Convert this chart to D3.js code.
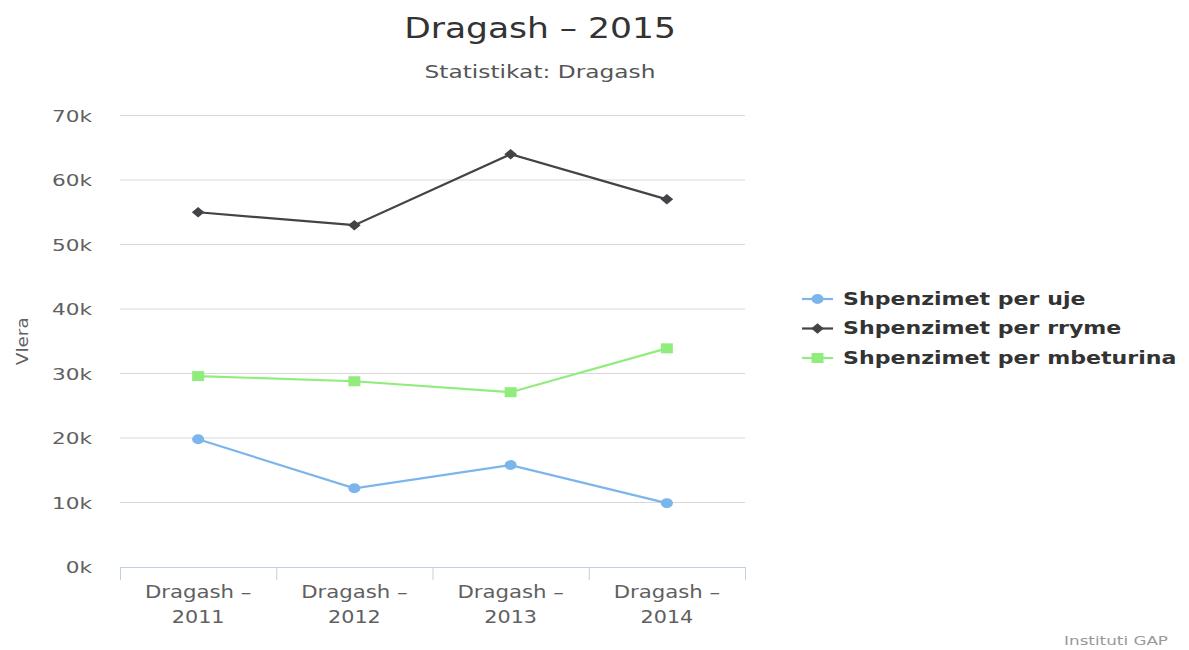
<!DOCTYPE html>
<html><head><meta charset="utf-8">
<script src="https://cdn.jsdelivr.net/npm/d3@7"></script>
<style>body{margin:0;background:#fff}svg{display:block}text{font-family:"DejaVu Sans",Verdana,sans-serif}</style>
</head><body><svg id="c" width="1189" height="650"></svg>
<script>
const categories = ["Dragash – 2011","Dragash – 2012","Dragash – 2013","Dragash – 2014"];
const seriesNames = ["Shpenzimet per uje","Shpenzimet per rryme","Shpenzimet per mbeturina"];
const uje = [19800, 12200, 15800, 9900];
const rryme = [55000, 53000, 64000, 57000];
const mbeturina = [29600, 28800, 27100, 33900];
const yTicks = [0,10000,20000,30000,40000,50000,60000,70000];
const colors = ["#7cb5ec","#434348","#90ed7d"];

// rhombus symbol (equal-ish diagonals like Highcharts diamond)
const rhombus = {draw(ctx,size){const r=Math.sqrt(size)/2; ctx.moveTo(0,-r);ctx.lineTo(r,0);ctx.lineTo(0,r);ctx.lineTo(-r,0);ctx.closePath();}};
const symbols = [d3.symbolCircle, rhombus, d3.symbolSquare];
const symSizes = [78, 110, 100];

const series = [uje, rryme, mbeturina].map((v,i)=>({name:seriesNames[i], values:v, color:colors[i], symbol:symbols[i], size:symSizes[i]}));

const svg = d3.select("#c");
const L=120, R=745, T=115.5, B=567;
const x = d3.scaleBand().domain(categories).range([L,R]);
const y = d3.scaleLinear().domain([0,70000]).range([B,T]);

// stretched text helper
function stext(parent, px, py, sx, str, opts){
  const g = parent.append("g").attr("transform",`translate(${px},${py}) scale(${sx},1)`);
  const t = g.append("text").attr("x",0).attr("y",0).text(str);
  Object.entries(opts||{}).forEach(([k,v])=>t.attr(k,v));
  return t;
}

stext(svg,540,38,1.19,"Dragash – 2015",{"text-anchor":"middle","font-size":29,"fill":"#333"});
stext(svg,540,78,1.37,"Statistikat: Dragash",{"text-anchor":"middle","font-size":17,"fill":"#555"});

// grid
svg.append("g").selectAll("line").data(yTicks.slice(1)).join("line")
  .attr("x1",L).attr("x2",R).attr("y1",d=>y(d)).attr("y2",d=>y(d))
  .attr("stroke","#d8d8d8").attr("stroke-width",1);

// y axis labels (use axis for tick positions, then stretch text)
const yAxis = d3.axisLeft(y).tickValues(yTicks).tickSize(0).tickPadding(0).tickFormat(d=>(d/1000)+"k");
const gy = svg.append("g").attr("transform",`translate(${L-28},0)`).call(yAxis);
gy.select(".domain").remove();
gy.selectAll(".tick text").attr("x",0).attr("font-size",16).attr("fill","#606060").attr("dy","0.35em")
  .attr("transform","scale(1.35,1)").attr("text-anchor","end").style("font-family","DejaVu Sans");

const vg = svg.append("g").attr("transform",`translate(28,${(T+B)/2}) rotate(-90) scale(1.15,1)`);
vg.append("text").attr("text-anchor","middle").attr("font-size",16).attr("fill","#606060").text("Vlera");

// x axis
const gx = svg.append("g").attr("transform",`translate(0,${B})`)
  .call(d3.axisBottom(x).tickSize(0).tickFormat(""));
gx.select(".domain").attr("stroke","#c0d0e0").attr("d",`M${L},0.5H${R}`);
gx.selectAll(".tick").remove();
const bounds = categories.map(c=>x(c)).concat([R]);
gx.selectAll("line.tk").data(bounds).join("line").attr("class","tk")
  .attr("x1",d=>d+0.5).attr("x2",d=>d+0.5).attr("y1",0).attr("y2",13).attr("stroke","#c0d0e0");
categories.forEach(c=>{
  const cx = x(c)+x.bandwidth()/2;
  const parts = c.split(" – ");
  stext(gx,cx,31,1.25,parts[0]+" –",{"text-anchor":"middle","font-size":17,"fill":"#606060"});
  stext(gx,cx,56,1.22,parts[1],{"text-anchor":"middle","font-size":17,"fill":"#606060"});
});

// lines
const line = d3.line().x((d,i)=>x(categories[i])+x.bandwidth()/2).y(d=>y(d));
series.forEach(s=>{
  svg.append("path").attr("d",line(s.values)).attr("fill","none").attr("stroke",s.color).attr("stroke-width",2.2);
  svg.append("g").selectAll("path").data(s.values).join("path")
    .attr("transform",(d,i)=>`translate(${x(categories[i])+x.bandwidth()/2},${y(d)}) scale(1.2,1)`)
    .attr("d",d3.symbol().type(s.symbol).size(s.size))
    .attr("fill",s.color);
});

// legend
const lg = svg.append("g").attr("transform","translate(802,299)");
series.forEach((s,i)=>{
  const g = lg.append("g").attr("transform",`translate(0,${i*29.5})`);
  g.append("line").attr("x1",0).attr("x2",31).attr("stroke",s.color).attr("stroke-width",2.2);
  g.append("path").attr("transform","translate(15.5,0) scale(1.2,1)")
    .attr("d",d3.symbol().type(s.symbol).size(s.size)).attr("fill",s.color);
  stext(g,41,0,1.3,s.name,{"dy":"0.35em","font-size":17,"font-weight":"bold","fill":"#333"});
});

stext(svg,1168,645,1.4,"Instituti GAP",{"text-anchor":"end","font-size":12,"fill":"#999"});
</script></body></html>
